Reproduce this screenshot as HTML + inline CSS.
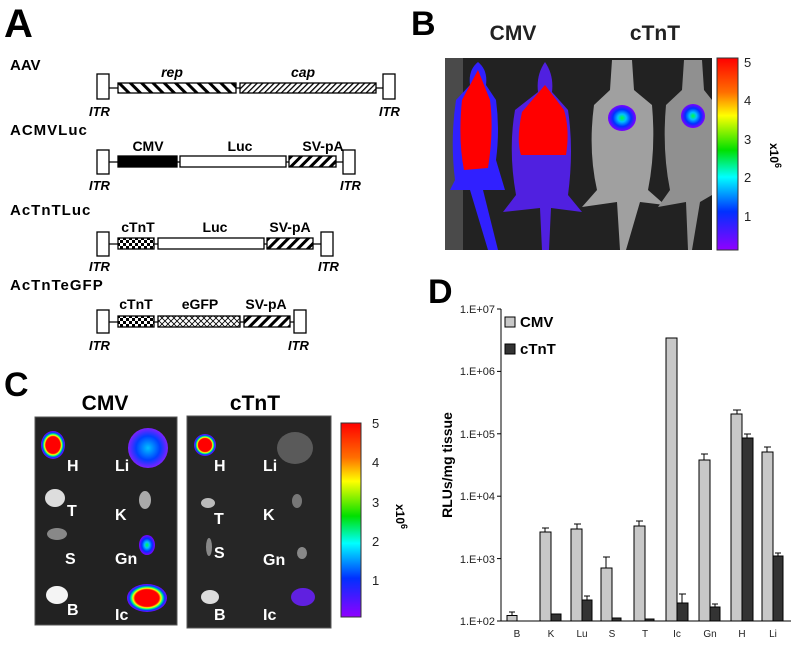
<!DOCTYPE html>
<html><head><meta charset="utf-8"><style>
html,body{margin:0;padding:0;background:#fff;width:796px;height:645px;overflow:hidden}
text{font-family:"Liberation Sans",Arial,sans-serif}
</style></head><body>
<svg width="796" height="645" viewBox="0 0 796 645" xmlns="http://www.w3.org/2000/svg">
<defs>
<pattern id="hb" width="8" height="8" patternUnits="userSpaceOnUse" patternTransform="rotate(-45)"><rect width="8" height="8" fill="#fff"/><rect width="3" height="8" fill="#000"/></pattern>
<pattern id="hf" width="4" height="4" patternUnits="userSpaceOnUse" patternTransform="rotate(45)"><rect width="4" height="4" fill="#fff"/><rect width="1.3" height="4" fill="#000"/></pattern>
<pattern id="hs" width="7" height="7" patternUnits="userSpaceOnUse" patternTransform="rotate(45)"><rect width="7" height="7" fill="#fff"/><rect width="3" height="7" fill="#000"/></pattern>
<pattern id="ck" width="6" height="6" patternUnits="userSpaceOnUse"><rect width="6" height="6" fill="#fff"/><rect width="3" height="3" fill="#000"/><rect x="3" y="3" width="3" height="3" fill="#000"/></pattern>
<pattern id="xx" width="6" height="6" patternUnits="userSpaceOnUse"><rect width="6" height="6" fill="#fff"/><path d="M0 0L6 6M6 0L0 6" stroke="#000" stroke-width="0.8"/></pattern>
<linearGradient id="cb" x1="0" y1="0" x2="0" y2="1">
<stop offset="0" stop-color="#ff0000"/><stop offset="0.18" stop-color="#ff7000"/><stop offset="0.3" stop-color="#ffff00"/><stop offset="0.48" stop-color="#00e000"/><stop offset="0.62" stop-color="#00ffff"/><stop offset="0.8" stop-color="#0030ff"/><stop offset="1" stop-color="#9000ff"/></linearGradient>
<radialGradient id="hot"><stop offset="0" stop-color="#ff0000"/><stop offset="0.6" stop-color="#ff0000"/><stop offset="0.7" stop-color="#ffff00"/><stop offset="0.78" stop-color="#00ff80"/><stop offset="0.88" stop-color="#0040ff"/><stop offset="1" stop-color="#8000ff"/></radialGradient>
<radialGradient id="cool"><stop offset="0" stop-color="#00ff40"/><stop offset="0.3" stop-color="#00c0ff"/><stop offset="0.65" stop-color="#0030ff"/><stop offset="1" stop-color="#8000ff"/></radialGradient>
<radialGradient id="bl"><stop offset="0" stop-color="#00c0ff"/><stop offset="0.6" stop-color="#0040ff"/><stop offset="1" stop-color="#8020ff"/></radialGradient>
</defs>

<!-- Panel A -->
<text x="4" y="37" font-size="40" font-weight="bold">A</text>
<g font-weight="bold" font-size="15">
<text x="10" y="70">AAV</text>
<text x="10" y="135" letter-spacing="1">ACMVLuc</text>
<text x="10" y="215" letter-spacing="1">AcTnTLuc</text>
<text x="10" y="290" letter-spacing="1">AcTnTeGFP</text>
</g>
<g stroke="#000" stroke-width="1.3">
<line x1="109" y1="88" x2="383" y2="88"/>
<rect x="97" y="74" width="12" height="25" fill="#fff"/><rect x="118" y="83" width="118" height="10" fill="url(#hb)"/><rect x="240" y="83" width="136" height="10" fill="url(#hf)"/><rect x="383" y="74" width="12" height="25" fill="#fff"/>
<line x1="109" y1="162" x2="343" y2="162"/>
<rect x="97" y="150" width="12" height="24" fill="#fff"/><rect x="118" y="156" width="59" height="11" fill="#000"/><rect x="180" y="156" width="106" height="11" fill="#fff"/><rect x="289" y="156" width="47" height="11" fill="url(#hs)"/><rect x="343" y="150" width="12" height="24" fill="#fff"/>
<line x1="109" y1="244" x2="321" y2="244"/>
<rect x="97" y="232" width="12" height="24" fill="#fff"/><rect x="118" y="238" width="36" height="11" fill="url(#ck)"/><rect x="158" y="238" width="106" height="11" fill="#fff"/><rect x="267" y="238" width="46" height="11" fill="url(#hs)"/><rect x="321" y="232" width="12" height="24" fill="#fff"/>
<line x1="109" y1="322" x2="294" y2="322"/>
<rect x="97" y="310" width="12" height="23" fill="#fff"/><rect x="118" y="316" width="36" height="11" fill="url(#ck)"/><rect x="158" y="316" width="82" height="11" fill="url(#xx)"/><rect x="244" y="316" width="46" height="11" fill="url(#hs)"/><rect x="294" y="310" width="12" height="23" fill="#fff"/>
</g>
<g font-weight="bold" font-size="14">
<text x="172" y="77" font-style="italic" text-anchor="middle">rep</text>
<text x="303" y="77" font-style="italic" text-anchor="middle">cap</text>
<text x="148" y="151" text-anchor="middle">CMV</text><text x="240" y="151" text-anchor="middle">Luc</text><text x="323" y="151" text-anchor="middle">SV-pA</text>
<text x="138" y="232" text-anchor="middle">cTnT</text><text x="215" y="232" text-anchor="middle">Luc</text><text x="290" y="232" text-anchor="middle">SV-pA</text>
<text x="136" y="309" text-anchor="middle">cTnT</text><text x="200" y="309" text-anchor="middle">eGFP</text><text x="266" y="309" text-anchor="middle">SV-pA</text>
</g>
<g font-weight="bold" font-style="italic" font-size="13">
<text x="89" y="116">ITR</text><text x="379" y="116">ITR</text>
<text x="89" y="190">ITR</text><text x="340" y="190">ITR</text>
<text x="89" y="271">ITR</text><text x="318" y="271">ITR</text>
<text x="89" y="350">ITR</text><text x="288" y="350">ITR</text>
</g>

<!-- Panel B -->
<text x="411" y="35" font-size="34" font-weight="bold">B</text>
<text x="513" y="40" font-size="21" font-weight="bold" text-anchor="middle" fill="#222">CMV</text>
<text x="655" y="40" font-size="21" font-weight="bold" text-anchor="middle" fill="#222">cTnT</text>
<rect x="445" y="58" width="267" height="192" fill="#222"/>
<rect x="445" y="58" width="18" height="192" fill="#4a4a4a"/>
<!-- CMV mice -->
<path d="M478 62 Q468 70 470 85 L456 100 Q450 140 455 180 L450 190 L470 190 L488 250 L498 250 L483 190 L505 190 L496 160 Q500 130 496 100 L486 85 Q488 70 478 62Z" fill="#3020ff"/>
<path d="M478 70 L462 100 Q458 140 464 170 L488 168 Q494 130 490 100 Z" fill="#ff0000"/>
<path d="M545 62 Q536 75 538 92 L515 110 Q508 150 516 195 L503 212 L540 208 L542 250 L549 250 L551 208 L582 212 L568 195 Q574 150 568 110 L552 92 Q554 75 545 62Z" fill="#5020e0"/>
<path d="M545 85 L522 112 Q516 140 521 155 L566 155 Q570 130 564 110 Z" fill="#ff0000"/>
<!-- cTnT mice -->
<path d="M612 60 L632 60 L634 90 L652 105 Q656 150 648 190 L665 205 L640 202 L626 250 L620 250 L617 202 L582 207 L597 190 Q588 150 594 105 L610 90Z" fill="#a0a0a0"/>
<path d="M684 60 L702 60 L704 90 L712 100 L712 195 L700 202 L692 250 L688 250 L686 202 L658 207 L670 190 Q662 150 666 105 L682 90Z" fill="#909090"/>
<ellipse cx="622" cy="118" rx="14" ry="13" fill="url(#cool)"/>
<ellipse cx="693" cy="116" rx="12" ry="12" fill="url(#cool)"/>
<rect x="717" y="58" width="21" height="192" fill="url(#cb)" stroke="#333"/>
<g font-size="13" fill="#222"><text x="744" y="67">5</text><text x="744" y="105">4</text><text x="744" y="144">3</text><text x="744" y="182">2</text><text x="744" y="221">1</text></g>
<text transform="translate(770,143) rotate(90)" font-size="12" font-weight="bold">x10<tspan dy="-5" font-size="9">6</tspan></text>

<!-- Panel C -->
<text x="4" y="396" font-size="34" font-weight="bold">C</text>
<text x="105" y="410" font-size="21" font-weight="bold" text-anchor="middle">CMV</text>
<text x="255" y="410" font-size="21" font-weight="bold" text-anchor="middle">cTnT</text>
<rect x="35" y="417" width="142" height="208" fill="#222" stroke="#555"/>
<rect x="187" y="416" width="144" height="212" fill="#262626" stroke="#555"/>
<ellipse cx="53" cy="445" rx="12" ry="14" fill="url(#hot)"/>
<ellipse cx="148" cy="448" rx="20" ry="20" fill="url(#bl)"/>
<ellipse cx="55" cy="498" rx="10" ry="9" fill="#ddd"/>
<ellipse cx="145" cy="500" rx="6" ry="9" fill="#aaa"/>
<ellipse cx="57" cy="534" rx="10" ry="6" fill="#888"/>
<ellipse cx="147" cy="545" rx="8" ry="10" fill="url(#cool)"/>
<ellipse cx="57" cy="595" rx="11" ry="9" fill="#f4f4f4"/>
<ellipse cx="147" cy="598" rx="20" ry="14" fill="url(#hot)"/>
<ellipse cx="205" cy="445" rx="11" ry="11" fill="url(#hot)"/>
<ellipse cx="295" cy="448" rx="18" ry="16" fill="#5a5a5a"/>
<ellipse cx="208" cy="503" rx="7" ry="5" fill="#bbb"/>
<ellipse cx="297" cy="501" rx="5" ry="7" fill="#777"/>
<ellipse cx="209" cy="547" rx="3" ry="9" fill="#888"/>
<ellipse cx="302" cy="553" rx="5" ry="6" fill="#888"/>
<ellipse cx="210" cy="597" rx="9" ry="7" fill="#ddd"/>
<ellipse cx="303" cy="597" rx="12" ry="9" fill="#6020e0"/>
<g fill="#fff" font-weight="bold" font-size="16">
<text x="67" y="471">H</text><text x="115" y="471">Li</text><text x="67" y="516">T</text><text x="115" y="520">K</text><text x="65" y="564">S</text><text x="115" y="564">Gn</text><text x="67" y="615">B</text><text x="115" y="620">Ic</text>
<text x="214" y="471">H</text><text x="263" y="471">Li</text><text x="214" y="524">T</text><text x="263" y="520">K</text><text x="214" y="558">S</text><text x="263" y="565">Gn</text><text x="214" y="620">B</text><text x="263" y="620">Ic</text>
</g>
<rect x="341" y="423" width="20" height="194" fill="url(#cb)" stroke="#333"/>
<g font-size="13" fill="#222"><text x="372" y="428">5</text><text x="372" y="467">4</text><text x="372" y="507">3</text><text x="372" y="546">2</text><text x="372" y="585">1</text></g>
<text transform="translate(396,504) rotate(90)" font-size="12" font-weight="bold">x10<tspan dy="-5" font-size="9">6</tspan></text>

<!-- Panel D -->
<text x="428" y="303" font-size="34" font-weight="bold">D</text>
<g stroke="#000" stroke-width="1"><line x1="501" y1="309" x2="501" y2="621"/><line x1="501" y1="621" x2="791" y2="621"/>
<line x1="497" y1="309" x2="501" y2="309"/><line x1="497" y1="371.4" x2="501" y2="371.4"/><line x1="497" y1="433.8" x2="501" y2="433.8"/><line x1="497" y1="496.2" x2="501" y2="496.2"/><line x1="497" y1="558.6" x2="501" y2="558.6"/><line x1="497" y1="621" x2="501" y2="621"/>
</g>
<g font-size="11" text-anchor="end" fill="#222"><text x="495" y="313">1.E+07</text><text x="495" y="375">1.E+06</text><text x="495" y="438">1.E+05</text><text x="495" y="500">1.E+04</text><text x="495" y="563">1.E+03</text><text x="495" y="625">1.E+02</text></g>
<text transform="translate(452,465) rotate(-90)" font-size="14" font-weight="bold" text-anchor="middle">RLUs/mg tissue</text>
<rect x="505" y="317" width="10" height="10" fill="#c8c8c8" stroke="#000"/><text x="520" y="327" font-size="15" font-weight="bold">CMV</text>
<rect x="505" y="344" width="10" height="10" fill="#333" stroke="#000"/><text x="520" y="354" font-size="15" font-weight="bold">cTnT</text>
<g stroke="#000" stroke-width="1">
<rect x="507" y="615.5" width="10" height="5.5" fill="#c8c8c8"/><path d="M512 615.5V612M509 612h6" fill="none"/>
<rect x="540" y="532" width="11" height="89" fill="#c8c8c8"/><path d="M545 532V528M542 528h7" fill="none"/><rect x="551" y="614" width="10" height="7" fill="#333"/>
<rect x="571" y="529" width="11" height="92" fill="#c8c8c8"/><path d="M577 529V524M574 524h7" fill="none"/><rect x="582" y="600" width="10" height="21" fill="#333"/><path d="M587 600V596M584 596h6" fill="none"/>
<rect x="601" y="568" width="11" height="53" fill="#c8c8c8"/><path d="M606 568V557M603 557h7" fill="none"/><rect x="612" y="618" width="9" height="3" fill="#333"/>
<rect x="634" y="526" width="11" height="95" fill="#c8c8c8"/><path d="M639 526V521M636 521h7" fill="none"/><rect x="645" y="619" width="9" height="2" fill="#333"/>
<rect x="666" y="338" width="11" height="283" fill="#c8c8c8"/><rect x="677" y="603" width="11" height="18" fill="#333"/><path d="M682 603V594M679 594h7" fill="none"/>
<rect x="699" y="460" width="11" height="161" fill="#c8c8c8"/><path d="M704 460V454M701 454h7" fill="none"/><rect x="710" y="607" width="10" height="14" fill="#333"/><path d="M715 607V604M712 604h6" fill="none"/>
<rect x="731" y="414" width="11" height="207" fill="#c8c8c8"/><path d="M737 414V410M733 410h8" fill="none"/><rect x="742" y="438" width="11" height="183" fill="#333"/><path d="M747 438V434M744 434h7" fill="none"/>
<rect x="762" y="452" width="11" height="169" fill="#c8c8c8"/><path d="M767 452V447M764 447h7" fill="none"/><rect x="773" y="556" width="10" height="65" fill="#333"/><path d="M778 556V553M775 553h6" fill="none"/>
</g>
<g font-size="10" text-anchor="middle" fill="#222"><text x="517" y="637">B</text><text x="551" y="637">K</text><text x="582" y="637">Lu</text><text x="612" y="637">S</text><text x="645" y="637">T</text><text x="677" y="637">Ic</text><text x="710" y="637">Gn</text><text x="742" y="637">H</text><text x="773" y="637">Li</text></g>
</svg>
</body></html>
